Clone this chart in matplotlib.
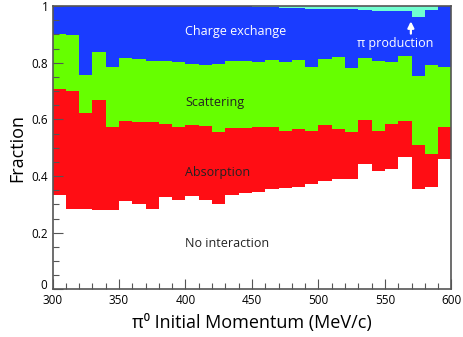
import numpy as np
import matplotlib
matplotlib.use("Agg")
import matplotlib.pyplot as plt
import matplotlib.transforms as mtrans
from matplotlib.ticker import MultipleLocator

plt.rcParams['font.family'] = ['Open Sans', 'DejaVu Sans']

bin_edges = list(range(300, 601, 10))

no_interaction = [0.332, 0.285, 0.283, 0.279, 0.279, 0.311, 0.302, 0.283, 0.325, 0.315,
                  0.329, 0.316, 0.302, 0.334, 0.340, 0.344, 0.353, 0.358, 0.363, 0.371,
                  0.384, 0.390, 0.389, 0.444, 0.417, 0.426, 0.467, 0.356, 0.363, 0.460]
absorption = [0.375, 0.416, 0.338, 0.388, 0.293, 0.284, 0.288, 0.308, 0.260, 0.257,
              0.250, 0.260, 0.254, 0.235, 0.231, 0.228, 0.221, 0.201, 0.203, 0.187,
              0.195, 0.177, 0.165, 0.154, 0.141, 0.157, 0.126, 0.153, 0.116, 0.112]
scattering = [0.193, 0.197, 0.137, 0.172, 0.212, 0.222, 0.223, 0.214, 0.220, 0.230,
              0.218, 0.217, 0.238, 0.236, 0.235, 0.232, 0.236, 0.242, 0.242, 0.227,
              0.233, 0.253, 0.228, 0.217, 0.248, 0.218, 0.232, 0.244, 0.312, 0.214]
charge_exchange = [0.100, 0.102, 0.242, 0.161, 0.216, 0.183, 0.187, 0.195, 0.195, 0.198,
                   0.203, 0.207, 0.206, 0.195, 0.194, 0.192, 0.187, 0.192, 0.184, 0.206,
                   0.179, 0.170, 0.206, 0.171, 0.176, 0.183, 0.157, 0.209, 0.194, 0.214]
pi_production = [0.0, 0.0, 0.0, 0.0, 0.0, 0.0, 0.0, 0.0, 0.0, 0.0,
                 0.0, 0.0, 0.0, 0.0, 0.0, 0.004, 0.003, 0.007, 0.008, 0.009,
                 0.009, 0.010, 0.012, 0.014, 0.018, 0.016, 0.018, 0.038, 0.015, 0.0]

series = [no_interaction, absorption, scattering, charge_exchange, pi_production]
colors = ['#ffffff', '#ff0d14', '#66ff00', '#1a3cff', '#70ffd0']

fig = plt.figure(figsize=(4.63, 3.37), dpi=100)
ax = fig.add_axes([0.1134, 0.141, 0.8616, 0.841])

base = np.zeros(len(no_interaction))
for vals, c in zip(series, colors):
    top = base + np.array(vals)
    ax.stairs(top, bin_edges, baseline=base, fill=True, color=c, lw=0)
    base = top

ax.set_xlim(300, 600)
ax.set_ylim(0, 1)

ax.xaxis.set_major_locator(MultipleLocator(50))
ax.xaxis.set_minor_locator(MultipleLocator(10))
ax.yaxis.set_minor_locator(MultipleLocator(0.05))
ax.set_yticks([0, 0.2, 0.4, 0.6, 0.8, 1.0])
ax.set_yticklabels(['0', '0.2', '0.4', '0.6', '0.8', '1'])
ax.tick_params(which='both', direction='in', color='#555555', top=False, right=False,
               labelsize=8.5)
ax.tick_params(which='major', length=7, width=0.8)
ax.tick_params(which='minor', length=4, width=0.8)
ax.tick_params(axis='x', pad=3)
ax.tick_params(axis='y', pad=3)
for s in ax.spines.values():
    s.set_color('#555555')
    s.set_linewidth(1.2)

# nudge the "0" y label up a little so it does not touch "300"
fig.canvas.draw()
zero_lbl = ax.get_yticklabels()[0]
zero_lbl.set_transform(zero_lbl.get_transform() +
                       mtrans.ScaledTranslation(-1 / 72, 4 / 72, fig.dpi_scale_trans))

ax.set_xlabel('π\u2070 Initial Momentum (MeV/c)', fontsize=13, labelpad=5)
ax.set_ylabel('Fraction', fontsize=13, labelpad=4)

ax.text(400, 0.912, 'Charge exchange', color='white', fontsize=9, va='center', ha='left')
ax.text(400, 0.661, 'Scattering', color='#222222', fontsize=9, va='center', ha='left')
ax.text(400, 0.411, 'Absorption', color='#222222', fontsize=9, va='center', ha='left')
ax.text(400, 0.164, 'No interaction', color='#222222', fontsize=9, va='center', ha='left')
ax.text(529, 0.869, 'π production', color='white', fontsize=9, va='center', ha='left')
ax.annotate('', xy=(569.5, 0.956), xytext=(569.5, 0.893),
            arrowprops=dict(arrowstyle='-|>', color='white', lw=1.6, mutation_scale=9))

fig.savefig('out.png', dpi=100)
